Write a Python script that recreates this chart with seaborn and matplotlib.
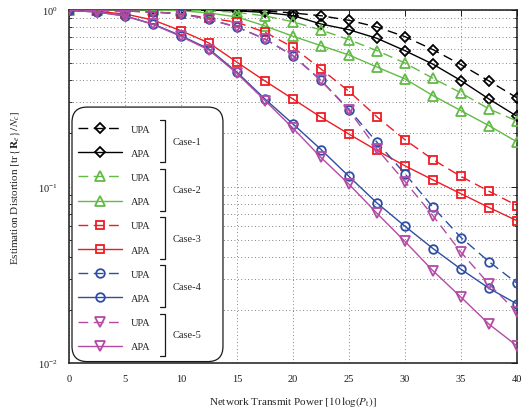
import numpy as np
import pandas as pd
import matplotlib
matplotlib.use('Agg')
import matplotlib.pyplot as plt
import seaborn as sns
from matplotlib.patches import FancyBboxPatch
from matplotlib.lines import Line2D

# transmit power grid [dB]
power = [0, 2.5, 5, 7.5, 10, 12.5, 15, 17.5, 20, 22.5, 25, 27.5, 30, 32.5, 35, 37.5, 40]

# estimation distortion
c1_upa = [1.0, 1.0, 1.0, 1.0, 1.0, 1.0, 0.998, 0.987, 0.962, 0.928, 0.874, 0.801, 0.706, 0.596, 0.490, 0.396, 0.318]
c1_apa = [1.0, 1.0, 1.0, 1.0, 1.0, 0.998, 0.99, 0.968, 0.93, 0.833, 0.773, 0.691, 0.588, 0.493, 0.398, 0.313, 0.250]
c2_upa = [1.0, 1.0, 1.0, 1.0, 1.0, 0.99, 0.970, 0.925, 0.858, 0.770, 0.679, 0.588, 0.501, 0.410, 0.339, 0.275, 0.235]
c2_apa = [1.0, 1.0, 1.0, 1.0, 0.99, 0.962, 0.913, 0.812, 0.710, 0.628, 0.556, 0.475, 0.407, 0.327, 0.269, 0.221, 0.179]
c3_upa = [1.0, 0.995, 0.987, 0.974, 0.949, 0.901, 0.852, 0.748, 0.615, 0.463, 0.346, 0.248, 0.184, 0.142, 0.114, 0.094, 0.078]
c3_apa = [0.995, 0.981, 0.949, 0.878, 0.763, 0.650, 0.506, 0.396, 0.313, 0.247, 0.198, 0.160, 0.131, 0.109, 0.091, 0.076, 0.064]
c4_upa = [1.0, 0.994, 0.987, 0.974, 0.955, 0.884, 0.801, 0.685, 0.551, 0.399, 0.273, 0.178, 0.118, 0.0762, 0.0514, 0.0375, 0.0283]
c4_apa = [0.995, 0.974, 0.925, 0.833, 0.715, 0.601, 0.444, 0.313, 0.226, 0.162, 0.114, 0.0806, 0.0595, 0.0445, 0.034, 0.0265, 0.0216]
c5_upa = [1.0, 0.994, 0.987, 0.974, 0.955, 0.884, 0.801, 0.685, 0.551, 0.399, 0.270, 0.163, 0.1065, 0.0683, 0.0424, 0.028, 0.0194]
c5_apa = [0.995, 0.974, 0.925, 0.828, 0.708, 0.593, 0.437, 0.307, 0.214, 0.146, 0.103, 0.0705, 0.0488, 0.0333, 0.0236, 0.0166, 0.0125]

cases = ['Case-1', 'Case-2', 'Case-3', 'Case-4', 'Case-5']
schemes = ['UPA', 'APA']
values = [c1_upa, c1_apa, c2_upa, c2_apa, c3_upa, c3_apa, c4_upa, c4_apa, c5_upa, c5_apa]

colors = ['#000000', '#62bb46', '#ec1c24', '#2e4ea3', '#b44aa5']
markers = ['D', '^', 's', 'o', 'v']
msizes = [5.5, 7, 6.2, 6.2, 7]
linestyles = {'UPA': (0, (7, 4)), 'APA': '-'}

sns.set_theme(style='white')
plt.rcParams['font.family'] = ['Liberation Serif', 'DejaVu Serif']
plt.rcParams['mathtext.fontset'] = 'stix'

fig = plt.figure(figsize=(5.21, 4.10), dpi=100)
ax = fig.add_axes([69 / 521, 1 - 364 / 410, 448 / 521, 353 / 410])
ax.set_yscale('log')

k = 0
for i, case in enumerate(cases):
    for scheme in schemes:
        sns.lineplot(x=power, y=values[k], ax=ax, color=colors[i], marker=markers[i],
                     markersize=msizes[i], markerfacecolor='none', markeredgecolor=colors[i],
                     markeredgewidth=1.3, linewidth=1.0, linestyle=linestyles[scheme],
                     errorbar=None, legend=False, label=scheme, zorder=3)
        k += 1

ax.set_xlim(0, 40)
ax.set_ylim(1e-2, 1)
ax.set_xticks(np.arange(0, 41, 5))

ax.grid(True, which='major', axis='both', color='0.25', linestyle=(0, (1, 3.5)), linewidth=0.55)
ax.grid(True, which='minor', axis='y', color='0.25', linestyle=(0, (1, 3.5)), linewidth=0.55)
for s in ax.spines.values():
    s.set_color('k')
    s.set_linewidth(1.1)
ax.tick_params(which='both', direction='in', top=True, right=True, colors='k')
ax.tick_params(which='major', length=4, width=0.7, labelsize=7.5, pad=8)
ax.tick_params(which='minor', length=2, width=0.6)
ax.tick_params(axis='y', which='minor', left=True, right=True)

ax.set_xlabel(r'Network Transmit Power $[10\,\log(P_\mathrm{t})]$', fontsize=8)
ax.set_ylabel(r'Estimation Distortion $[\mathrm{tr}\,\{\mathbf{R}_e\}\,/N_c]$', fontsize=8)
ax.xaxis.set_label_coords(0.5, -0.088)
ax.yaxis.set_label_coords(-0.105, 0.5)

# rounded legend box
aspect = 448 / 353
box = FancyBboxPatch((0.0067, 0.004), 0.337, 0.721,
                     boxstyle='round,pad=0,rounding_size=0.034', mutation_aspect=aspect,
                     transform=ax.transAxes, facecolor='white', edgecolor='k',
                     linewidth=0.9, zorder=4)
ax.add_patch(box)

handles = ax.get_lines()[:10]
labels = [h.get_label() for h in handles]
leg = ax.legend(handles, labels, loc='upper left', bbox_to_anchor=(0.02, 0.676),
                frameon=False, fontsize=7.5, handlelength=4.2, handletextpad=0.9,
                labelspacing=1.43, borderpad=0, borderaxespad=0)
leg.set_zorder(5)

# brackets grouping UPA/APA pairs
fig.canvas.draw()
inv = ax.transAxes.inverted()
texts = leg.get_texts()
dy = 9 / 353
for i, case in enumerate(cases):
    e1 = texts[2 * i].get_window_extent()
    e2 = texts[2 * i + 1].get_window_extent()
    y1 = inv.transform(((e1.x0 + e1.x1) / 2, (e1.y0 + e1.y1) / 2))[1] + dy
    y2 = inv.transform(((e2.x0 + e2.x1) / 2, (e2.y0 + e2.y1) / 2))[1] - dy
    xa, xb = 0.203, 0.214
    br = Line2D([xa, xb, xb, xa], [y1, y1, y2, y2], transform=ax.transAxes,
                color='k', linewidth=0.9, zorder=6)
    ax.add_artist(br)
    ax.text(0.232, (y1 + y2) / 2, case, transform=ax.transAxes, fontsize=7.5,
            va='center', ha='left', zorder=6)

plt.savefig('out.png', dpi=100)
